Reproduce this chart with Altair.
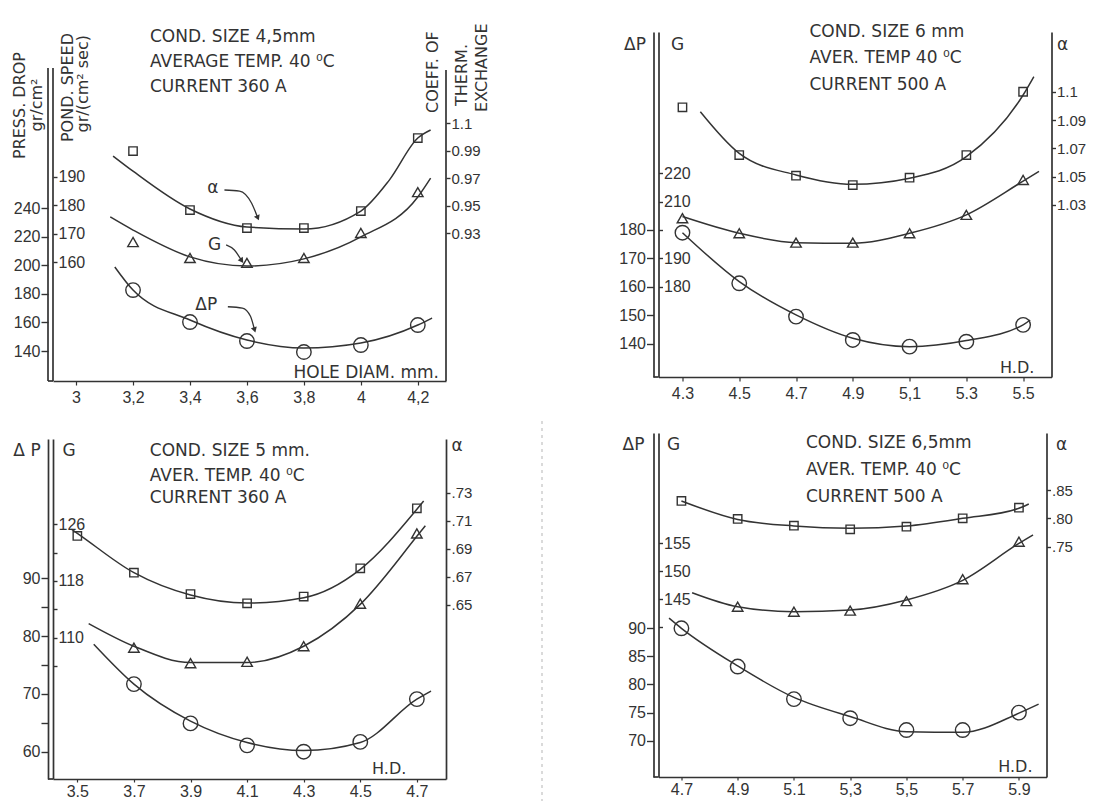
import json
import altair as alt
import pandas as pd

INK = "#333333"
TXT_FONT = "DejaVu Sans"
TICK_FONT = "Liberation Sans"

# ---------------- Panel 1 : cond. size 4,5 mm ----------------
P1_X_DOMAIN = [2.919, 4.299]
P1_X_TICKS = [3.0, 3.2, 3.4, 3.6, 3.8, 4.0, 4.2]
P1_X_LABELS = ["3", "3,2", "3,4", "3,6", "3,8", "4", "4,2"]
P1_PT_X = [3.2, 3.4, 3.6, 3.8, 4.0, 4.2]
P1_DP_PTS = [182.7, 160.3, 147.0, 139.3, 144.2, 158.2]
P1_DP_CURVE_X = [3.136, 3.2, 3.4, 3.6, 3.8, 4.0, 4.2, 4.25]
P1_DP_CURVE_Y = [198.9, 182.7, 161.7, 147.7, 142.1, 145.6, 158.2, 163.1]
P1_G_PTS = [167.1, 161.5, 159.8, 161.5, 170.3, 184.6]
P1_G_CURVE_X = [3.12, 3.2, 3.4, 3.6, 3.8, 4.0, 4.2, 4.245]
P1_G_CURVE_Y = [175.9, 171.3, 161.9, 158.7, 161.2, 168.9, 182.9, 189.5]
P1_A_PTS = [0.9896, 0.9467, 0.9336, 0.9336, 0.946, 0.9991]
P1_A_CURVE_X = [3.13, 3.2, 3.4, 3.6, 3.8, 4.0, 4.1, 4.2, 4.245]
P1_A_CURVE_Y = [0.986, 0.975, 0.9475, 0.9344, 0.9329, 0.946, 0.9685, 0.9991, 1.0049]
P1_DP_DOMAIN = [118.98, 363.55]
P1_G_DOMAIN = [118.4, 240.72]
P1_A_DOMAIN = [0.8224, 1.0762]
P1_DP_TICKS = [140, 160, 180, 200, 220, 240]
P1_DP_LABELS = ["140", "160", "180", "200", "220", "240"]
P1_G_TICKS = [160, 170, 180, 190]
P1_G_LABELS = ["160", "170", "180", "190"]
P1_A_TICKS = [0.93, 0.95, 0.97, 0.99, 1.01]
P1_A_LABELS = ["0.93", "0.95", "0.97", "0.99", "1.1"]
P1_NOTES = ["COND. SIZE 4,5mm", "AVERAGE TEMP. 40 \u2070C", "CURRENT 360 A"]
P1_X_TITLE = "HOLE DIAM. mm."
P1_DP_TITLE = ["PRESS. DROP", "gr/cm\u00b2"]
P1_G_TITLE = ["POND. SPEED", "gr/(cm\u00b2 sec)"]
P1_A_TITLE = ["COEFF. OF", "THERM.", "EXCHANGE"]
P1_CALLOUTS = ["\u03b1", "G", "\u0394P"]
P1_CALLOUT_X = [3.480, 3.486, 3.457]
P1_CALLOUT_Y = [0.9625, 166.06, 172.2]
P1_A_ARROW_X = [3.521, 3.574, 3.616, 3.637]
P1_A_ARROW_Y = [0.9613, 0.9605, 0.9518, 0.9416]
P1_G_ARROW_X = [3.527, 3.556, 3.580]
P1_G_ARROW_Y = [166.1, 164.3, 160.8]
P1_DP_ARROW_X = [3.533, 3.584, 3.612, 3.626]
P1_DP_ARROW_Y = [171.0, 170.1, 164.5, 155.4]

# ---------------- Panel 2 : cond. size 6 mm ----------------
P2_X_DOMAIN = [4.2156, 5.6]
P2_X_TICKS = [4.3, 4.5, 4.7, 4.9, 5.1, 5.3, 5.5]
P2_X_LABELS = ["4.3", "4.5", "4.7", "4.9", "5,1", "5.3", "5.5"]
P2_PT_X = [4.3, 4.5, 4.7, 4.9, 5.1, 5.3, 5.5]
P2_DP_PTS = [179.05, 161.3, 149.6, 141.4, 139.05, 140.8, 146.7]
P2_DP_CURVE_X = [4.3, 4.5, 4.7, 4.9, 5.1, 5.3, 5.5, 5.525]
P2_DP_CURVE_Y = [179.05, 161.9, 150.2, 142.0, 139.05, 141.2, 146.7, 148.4]
P2_G_PTS = [204.1, 198.8, 195.5, 195.5, 198.8, 205.3, 217.6]
P2_G_CURVE_X = [4.3, 4.5, 4.7, 4.9, 5.1, 5.3, 5.5, 5.556]
P2_G_CURVE_Y = [204.7, 198.8, 195.5, 195.3, 198.8, 205.3, 217.2, 220.6]
P2_A_PTS = [1.099, 1.0653, 1.0507, 1.0441, 1.0493, 1.0653, 1.11]
P2_A_CURVE_X = [4.363, 4.5, 4.7, 4.9, 5.1, 5.3, 5.5, 5.5375]
P2_A_CURVE_Y = [1.0959, 1.0665, 1.0512, 1.0446, 1.0489, 1.0641, 1.1077, 1.1206]
P2_DP_DOMAIN = [128.4, 249.5]
P2_G_DOMAIN = [148.1, 269.8]
P2_A_DOMAIN = [0.9085, 1.1522]
P2_DP_TICKS = [140, 150, 160, 170, 180]
P2_DP_LABELS = ["140", "150", "160", "170", "180"]
P2_G_TICKS = [180, 190, 200, 210, 220]
P2_G_LABELS = ["180", "190", "", "210", "220"]
P2_A_TICKS = [1.03, 1.05, 1.07, 1.09, 1.11]
P2_A_LABELS = ["1.03", "1.05", "1.07", "1.09", "1.1"]
P2_NOTES = ["COND. SIZE  6 mm", "AVER.  TEMP  40 \u2070C", "CURRENT  500 A"]

# ---------------- Panel 3 : cond. size 5 mm ----------------
P3_X_DOMAIN = [3.414, 4.803]
P3_X_TICKS = [3.5, 3.7, 3.9, 4.1, 4.3, 4.5, 4.7]
P3_X_LABELS = ["3.5", "3.7", "3.9", "4.1", "4.3", "4.5", "4.7"]
P3_A_PT_X = [3.5, 3.7, 3.9, 4.1, 4.3, 4.5, 4.7]
P3_PT_X = [3.7, 3.9, 4.1, 4.3, 4.5, 4.7]
P3_DP_PTS = [71.7, 64.9, 61.1, 60.0, 61.7, 69.1]
P3_DP_CURVE_X = [3.558, 3.7, 3.9, 4.1, 4.3, 4.5, 4.7, 4.75]
P3_DP_CURVE_Y = [78.6, 71.7, 65.3, 61.6, 60.2, 61.6, 69.1, 70.5]
P3_G_PTS = [108.6, 106.4, 106.6, 108.8, 114.8, 124.7]
P3_G_CURVE_X = [3.54, 3.7, 3.9, 4.1, 4.3, 4.5, 4.7, 4.73]
P3_G_CURVE_Y = [112.0, 108.8, 106.5, 106.5, 108.8, 114.7, 124.3, 125.8]
P3_A_PTS = [0.6991, 0.673, 0.6578, 0.6512, 0.656, 0.6761, 0.7188]
P3_A_CURVE_X = [3.479, 3.5, 3.7, 3.9, 4.1, 4.3, 4.5, 4.7, 4.724]
P3_A_CURVE_Y = [0.7039, 0.701, 0.673, 0.6571, 0.6514, 0.6552, 0.6754, 0.7181, 0.724]
P3_DP_DOMAIN = [55.28, 114.1]
P3_G_DOMAIN = [90.07, 138.03]
P3_A_DOMAIN = [0.5262, 0.7681]
P3_DP_TICKS = [60, 65, 70, 75, 80, 85, 90]
P3_DP_LABELS = ["60", "", "70", "", "80", "", "90"]
P3_G_TICKS = [106, 110, 114, 118, 122, 126]
P3_G_LABELS = ["", "110", "", "118", "", "126"]
P3_A_TICKS = [0.65, 0.67, 0.69, 0.71, 0.73]
P3_A_LABELS = [".65", ".67", ".69", ".71", ".73"]
P3_NOTES = ["COND. SIZE  5 mm.", "AVER. TEMP.  40 \u2070C", "CURRENT  360 A"]

# ---------------- Panel 4 : cond. size 6,5 mm ----------------
P4_X_DOMAIN = [4.6185, 5.998]
P4_X_TICKS = [4.7, 4.9, 5.1, 5.3, 5.5, 5.7, 5.9]
P4_X_LABELS = ["4.7", "4.9", "5.1", "5,3", "5,5", "5.7", "5.9"]
P4_PT_X = [4.7, 4.9, 5.1, 5.3, 5.5, 5.7, 5.9]
P4_G_PT_X = [4.9, 5.1, 5.3, 5.5, 5.7, 5.9]
P4_DP_PTS = [90.0, 83.2, 77.4, 74.0, 71.9, 71.9, 75.0]
P4_DP_CURVE_X = [4.656, 4.7, 4.9, 5.1, 5.3, 5.5, 5.7, 5.9, 5.97]
P4_DP_CURVE_Y = [91.8, 90.0, 83.3, 77.7, 74.3, 71.6, 71.5, 74.9, 76.5]
P4_G_PTS = [143.7, 142.8, 143.0, 144.7, 148.6, 155.3]
P4_G_CURVE_X = [4.738, 4.9, 5.1, 5.3, 5.5, 5.7, 5.9, 5.95]
P4_G_CURVE_Y = [146.2, 143.7, 142.8, 143.1, 144.9, 148.4, 155.0, 156.5]
P4_A_PTS = [0.8306, 0.7988, 0.7869, 0.7806, 0.7852, 0.80, 0.8187]
P4_A_CURVE_X = [4.7, 4.9, 5.1, 5.3, 5.5, 5.7, 5.9, 5.935]
P4_A_CURVE_Y = [0.8306, 0.798, 0.7864, 0.7823, 0.7864, 0.80, 0.8177, 0.8253]
P4_DP_DOMAIN = [63.54, 124.75]
P4_G_DOMAIN = [113.3, 174.7]
P4_A_DOMAIN = [0.343, 0.9507]
P4_DP_TICKS = [70, 75, 80, 85, 90]
P4_DP_LABELS = ["70", "75", "80", "85", "90"]
P4_G_TICKS = [140, 145, 150, 155]
P4_G_LABELS = ["", "145", "150", "155"]
P4_A_TICKS = [0.75, 0.80, 0.85]
P4_A_LABELS = [".75", ".80", ".85"]
P4_NOTES = ["COND. SIZE  6,5mm", "AVER. TEMP.  40 \u2070C", "CURRENT  500 A"]

AXIS_NAMES = ["\u0394P", "G", "\u03b1"]
HD_TITLE = "H.D."


# ---------------- helpers ----------------
def label_expr(ticks, labels, fmt):
    keys = [format(t, fmt) for t in ticks]
    return "%s[indexof(%s, format(datum.value, '%s'))]" % (
        json.dumps(labels), json.dumps(keys), fmt)


def y_axis(ticks, labels, fmt, orient, offset, tick_size, font_size=16, domain=True):
    return alt.Axis(orient=orient, offset=offset, values=ticks,
                    labelExpr=label_expr(ticks, labels, fmt), title=None,
                    grid=False, tickSize=tick_size, tickWidth=1.4, tickColor=INK,
                    domain=domain, domainColor=INK, domainWidth=1.7, labelFont=TICK_FONT,
                    labelFontSize=font_size, labelColor=INK, labelPadding=1,
                    labelOverlap=False)


def x_encoding(domain, ticks, labels, tick_size=4, pad=4):
    ax = alt.Axis(values=ticks, labelExpr=label_expr(ticks, labels, ".1f"), title=None,
                  grid=False, tickSize=tick_size, tickWidth=1.2, tickColor=INK,
                  domainColor=INK, domainWidth=1.7, labelFont=TICK_FONT, labelFontSize=16,
                  labelColor=INK, labelPadding=pad, labelFlush=False, labelOverlap=False)
    return alt.X("x:Q", scale=alt.Scale(domain=domain, nice=False, zero=False), axis=ax)


def series_layer(xenc, cx, cy, px, py, domain, axis, shape, size, extras=()):
    yenc = alt.Y("v:Q", scale=alt.Scale(domain=domain, nice=False, zero=False), axis=axis)
    line = alt.Chart(pd.DataFrame({"x": cx, "v": cy})).mark_line(
        interpolate="monotone", color=INK, strokeWidth=1.5).encode(x=xenc, y=yenc)
    pts = alt.Chart(pd.DataFrame({"x": px, "v": py})).mark_point(
        shape=shape, size=size, filled=False, color=INK, strokeWidth=1.4, opacity=1
    ).encode(x=xenc, y=yenc)
    parts = [line, pts] + [e(xenc, yenc) for e in extras]
    return alt.layer(*parts)


def arrow(ax, ay, angle):
    def build(xenc, yenc):
        shaft = alt.Chart(pd.DataFrame({"x": ax, "v": ay})).mark_line(
            interpolate="monotone", color=INK, strokeWidth=1.3).encode(x=xenc, y=yenc)
        head = alt.Chart(pd.DataFrame({"x": ax[-1:], "v": ay[-1:]})).mark_point(
            shape="triangle", filled=True, size=38, angle=angle, color=INK, opacity=1
        ).encode(x=xenc, y=yenc)
        return alt.layer(shaft, head)
    return build


def callout(s, x, v):
    def build(xenc, yenc):
        return alt.Chart(pd.DataFrame({"x": [x], "v": [v], "t": [s]})).mark_text(
            font=TXT_FONT, fontSize=17, color=INK, align="center", baseline="middle"
        ).encode(x=xenc, y=yenc, text="t:N")
    return build


def text_mark(s, x, y, size=17, align="left", angle=0, baseline="middle", opacity=1.0):
    return alt.Chart(pd.DataFrame({"t": [s]})).mark_text(
        font=TXT_FONT, fontSize=size, color=INK, align=align, baseline=baseline,
        angle=angle, opacity=opacity, lineHeight=17
    ).encode(text="t:N", x=alt.value(x), y=alt.value(y))


def spacer(x, y, align, baseline):
    return text_mark(".", x, y, size=10, align=align, baseline=baseline, opacity=0)


def axis_line(x, y_top, y_bottom):
    return alt.Chart(pd.DataFrame({"t": [0]})).mark_rule(
        color=INK, strokeWidth=1.7).encode(
        x=alt.value(x), y=alt.value(y_top), y2=alt.value(y_bottom))


def base_stub(H):
    # bottom axis line continued under the outer (offset) left axis
    return alt.Chart(pd.DataFrame({"t": [0]})).mark_rule(
        color=INK, strokeWidth=1.7).encode(
        x=alt.value(-5), x2=alt.value(0), y=alt.value(H))


def divider(x, y_top, y_bottom):
    return alt.Chart(pd.DataFrame({"t": [0]})).mark_rule(
        color="#b5b5b5", strokeWidth=1, strokeDash=[3, 4]).encode(
        x=alt.value(x), y=alt.value(y_top), y2=alt.value(y_bottom))


def panel(W, H, xenc, dp, g, a, overlays, domain=True):
    dp_layer = series_layer(xenc, *dp["curve"], *dp["pts"], dp["domain"],
                            y_axis(dp["ticks"], dp["labels"], ".0f", "left", 5, 7,
                                   domain=domain),
                            "circle", 210, dp.get("extras", ()))
    g_layer = series_layer(xenc, *g["curve"], *g["pts"], g["domain"],
                           y_axis(g["ticks"], g["labels"], ".0f", "right", -W, 4,
                                  domain=domain),
                           "triangle-up", 110, g.get("extras", ()))
    a_layer = series_layer(xenc, *a["curve"], *a["pts"], a["domain"],
                           y_axis(a["ticks"], a["labels"], ".2f", "right", 0, 4, 15,
                                  domain=domain),
                           "square", 70, a.get("extras", ()))
    return alt.layer(dp_layer, g_layer, a_layer, base_stub(H), *overlays).resolve_scale(
        y="independent").properties(width=W, height=H)


def notes(lines, x, ys):
    return [text_mark(s, x, y) for s, y in zip(lines, ys)]


# ---------------- panel 1 (origin 53, 32; axes start at y=69) ----------------
W1, H1 = 393, 349
x1 = x_encoding(P1_X_DOMAIN, P1_X_TICKS, P1_X_LABELS)
p1_over = notes(P1_NOTES, 97, [5, 30, 55]) + [
    axis_line(-5, 36, H1),
    axis_line(0, 36, H1),
    axis_line(W1, 38, H1),
    text_mark(P1_X_TITLE, 386, 341, align="right"),
    text_mark(P1_DP_TITLE[0], -33, 73.5, size=16, align="center", angle=270),
    text_mark(P1_DP_TITLE[1], -16.3, 73, size=16, align="center", angle=270),
    text_mark(P1_G_TITLE[0], 15.3, 1, size=16, align="right", angle=270),
    text_mark(P1_G_TITLE[1], 30.3, 3, size=16, align="right", angle=270),
    text_mark(P1_A_TITLE[0], 380, 81, size=16, align="left", angle=270),
    text_mark(P1_A_TITLE[1], 409, 43, size=16, align="center", angle=270),
    text_mark(P1_A_TITLE[2], 429, 80, size=16, align="left", angle=270),
    spacer(-45, -24, "left", "top"),
    spacer(447, 378, "right", "bottom"),
]
p1 = panel(
    W1, H1, x1,
    dict(curve=(P1_DP_CURVE_X, P1_DP_CURVE_Y), pts=(P1_PT_X, P1_DP_PTS), domain=P1_DP_DOMAIN,
         ticks=P1_DP_TICKS, labels=P1_DP_LABELS,
         extras=(arrow(P1_DP_ARROW_X, P1_DP_ARROW_Y, 163),
                 callout(P1_CALLOUTS[2], P1_CALLOUT_X[2], P1_CALLOUT_Y[2]))),
    dict(curve=(P1_G_CURVE_X, P1_G_CURVE_Y), pts=(P1_PT_X, P1_G_PTS), domain=P1_G_DOMAIN,
         ticks=P1_G_TICKS, labels=P1_G_LABELS,
         extras=(arrow(P1_G_ARROW_X, P1_G_ARROW_Y, 145),
                 callout(P1_CALLOUTS[1], P1_CALLOUT_X[1], P1_CALLOUT_Y[1]))),
    dict(curve=(P1_A_CURVE_X, P1_A_CURVE_Y), pts=(P1_PT_X, P1_A_PTS), domain=P1_A_DOMAIN,
         ticks=P1_A_TICKS, labels=P1_A_LABELS,
         extras=(arrow(P1_A_ARROW_X, P1_A_ARROW_Y, 157),
                 callout(P1_CALLOUTS[0], P1_CALLOUT_X[0], P1_CALLOUT_Y[0]))),
    p1_over,
    domain=False,
)

# ---------------- panel 2 (origin 658, 32) ----------------
W2, H2 = 393, 345
x2 = x_encoding(P2_X_DOMAIN, P2_X_TICKS, P2_X_LABELS)
p2_over = notes(P2_NOTES, 151, [0, 26, 53]) + [
    text_mark(AXIS_NAMES[0], -23.5, 13, align="center"),
    text_mark(AXIS_NAMES[1], 19, 13, align="center"),
    text_mark(AXIS_NAMES[2], 404, 13, align="center"),
    text_mark(HD_TITLE, 375.8, 336, size=16, align="right"),
    spacer(-58, -24, "left", "top"),
    spacer(0, 378, "left", "bottom"),
]
p2 = panel(
    W2, H2, x2,
    dict(curve=(P2_DP_CURVE_X, P2_DP_CURVE_Y), pts=(P2_PT_X, P2_DP_PTS), domain=P2_DP_DOMAIN,
         ticks=P2_DP_TICKS, labels=P2_DP_LABELS),
    dict(curve=(P2_G_CURVE_X, P2_G_CURVE_Y), pts=(P2_PT_X, P2_G_PTS), domain=P2_G_DOMAIN,
         ticks=P2_G_TICKS, labels=P2_G_LABELS),
    dict(curve=(P2_A_CURVE_X, P2_A_CURVE_Y), pts=(P2_PT_X, P2_A_PTS), domain=P2_A_DOMAIN,
         ticks=P2_A_TICKS, labels=P2_A_LABELS),
    p2_over,
)

# ---------------- panel 3 (origin 53, 438) ----------------
W3, H3 = 393, 340
x3 = x_encoding(P3_X_DOMAIN, P3_X_TICKS, P3_X_LABELS, tick_size=3, pad=1)
p3_over = notes(P3_NOTES, 96.8, [12, 37, 59]) + [
    text_mark("\u0394 P", -26, 12, align="center"),
    text_mark(AXIS_NAMES[1], 16, 12, align="center"),
    text_mark(AXIS_NAMES[2], 404, 7, align="center"),
    text_mark(HD_TITLE, 353.3, 330, size=16, align="right"),
    divider(489, -18, 363),
    spacer(-45, -18, "left", "top"),
    spacer(447, 0, "right", "top"),
]
p3 = panel(
    W3, H3, x3,
    dict(curve=(P3_DP_CURVE_X, P3_DP_CURVE_Y), pts=(P3_PT_X, P3_DP_PTS), domain=P3_DP_DOMAIN,
         ticks=P3_DP_TICKS, labels=P3_DP_LABELS),
    dict(curve=(P3_G_CURVE_X, P3_G_CURVE_Y), pts=(P3_PT_X, P3_G_PTS), domain=P3_G_DOMAIN,
         ticks=P3_G_TICKS, labels=P3_G_LABELS),
    dict(curve=(P3_A_CURVE_X, P3_A_CURVE_Y), pts=(P3_A_PT_X, P3_A_PTS), domain=P3_A_DOMAIN,
         ticks=P3_A_TICKS, labels=P3_A_LABELS),
    p3_over,
)

# ---------------- panel 4 (origin 658, 433) ----------------
W4, H4 = 388, 344
x4 = x_encoding(P4_X_DOMAIN, P4_X_TICKS, P4_X_LABELS, tick_size=3, pad=1)
p4_over = notes(P4_NOTES, 147.5, [10, 37, 64]) + [
    text_mark(AXIS_NAMES[0], -25, 12, align="center"),
    text_mark(AXIS_NAMES[1], 15, 12, align="center"),
    text_mark(AXIS_NAMES[2], 403, 12, align="center"),
    text_mark(HD_TITLE, 374, 334, size=16, align="right"),
    spacer(-58, -13, "left", "top"),
]
p4 = panel(
    W4, H4, x4,
    dict(curve=(P4_DP_CURVE_X, P4_DP_CURVE_Y), pts=(P4_PT_X, P4_DP_PTS), domain=P4_DP_DOMAIN,
         ticks=P4_DP_TICKS, labels=P4_DP_LABELS),
    dict(curve=(P4_G_CURVE_X, P4_G_CURVE_Y), pts=(P4_G_PT_X, P4_G_PTS), domain=P4_G_DOMAIN,
         ticks=P4_G_TICKS, labels=P4_G_LABELS),
    dict(curve=(P4_A_CURVE_X, P4_A_CURVE_Y), pts=(P4_PT_X, P4_A_PTS), domain=P4_A_DOMAIN,
         ticks=P4_A_TICKS, labels=P4_A_LABELS),
    p4_over,
)

col1 = alt.vconcat(p1, p3, spacing=10)
col2 = alt.vconcat(p2, p4, spacing=10)
chart = alt.hconcat(col1, col2, spacing=57.5).properties(
    padding=0, background="white"
).configure_view(strokeWidth=0)

chart.save("out.html", embed_options={"renderer": "svg", "actions": False})
